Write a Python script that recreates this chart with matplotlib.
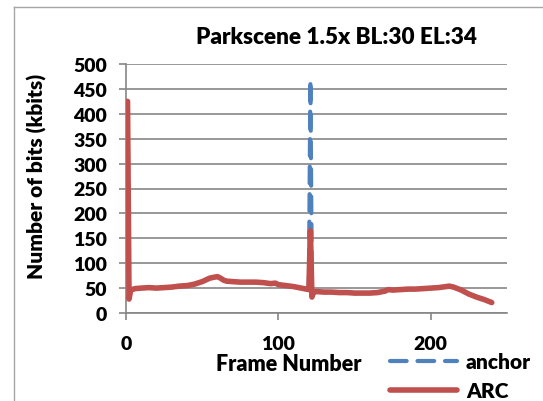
'''Parkscene bits per frame plot'''
import matplotlib
matplotlib.use("Agg")
import matplotlib.pyplot as plt
from matplotlib.lines import Line2D

# frame numbers the values were read at
frames = [1, 2, 3, 4, 6, 10, 15, 20, 25, 30, 35, 40, 45, 50, 55, 58, 60, 62,
          64, 66, 70, 75, 80, 85, 90, 95, 98, 100, 105, 110, 115, 120, 121,
          122, 123, 125, 130, 135, 140, 145, 150, 155, 160, 165, 170, 172,
          175, 180, 185, 190, 195, 200, 205, 210, 212, 215, 220, 225, 230,
          235, 240]

arc = [425, 28, 45, 47, 49, 50, 51, 50, 51, 52, 54, 55, 58, 63, 70, 72, 73, 70,
       66, 64, 63, 62, 62, 62, 61, 59, 60, 57, 55, 53, 50, 47, 165,
       32, 42, 43, 42, 42, 41, 41, 40, 40, 40, 41, 44, 47,
       46, 47, 48, 48, 49, 50, 51, 53, 54, 52, 46, 38, 32,
       27, 21]

anchor = [425, 28, 45, 47, 49, 50, 51, 50, 51, 52, 54, 55, 58, 63, 70, 72, 73, 70,
          66, 64, 63, 62, 62, 62, 61, 59, 60, 57, 55, 53, 50, 47, 468,
          28, 42, 43, 42, 42, 41, 41, 40, 40, 40, 41, 44, 47,
          46, 47, 48, 48, 49, 50, 51, 53, 54, 52, 46, 38, 32,
          27, 21]

yticks = [0, 50, 100, 150, 200, 250, 300, 350, 400, 450, 500]
xticks = [0, 100, 200]

BLUE = "#4F81BD"
RED = "#C0504D"
GRID = "#868686"
FONT = {'family': 'Lato', 'weight': 800}
FS = 14


def main():
    ''' Main function for module'''
    plt.rcParams['font.family'] = ['Lato', 'DejaVu Sans']
    plt.rcParams['font.weight'] = 800

    W, H = 543, 402
    fig = plt.figure(figsize=(W / 100, H / 100), dpi=100)
    ax = fig.add_axes([126 / W, 1 - 314 / H, (507 - 126) / W, (314 - 65) / H])

    # chart border (only left/top visible in the crop)
    fig.add_artist(Line2D([13.5 / W, 13.5 / W], [0, 1 - 7.5 / H],
                          transform=fig.transFigure, color="#a6a6a6", lw=1))
    fig.add_artist(Line2D([13.5 / W, 1], [1 - 7.5 / H, 1 - 7.5 / H],
                          transform=fig.transFigure, color="#a6a6a6", lw=1))

    ax.plot(frames, anchor, color=BLUE, lw=3, dashes=(4.0, 2.6),
            dash_capstyle='round', label="anchor", zorder=3)
    ax.plot(frames, arc, color=RED, lw=4, solid_capstyle='round',
            solid_joinstyle='round', label="ARC", zorder=4)

    ax.set_xlim(0, 250)
    ax.set_ylim(0, 500)
    ax.set_xticks(xticks)
    ax.set_yticks(yticks)
    ax.set_xticklabels([str(v) for v in xticks], fontdict=FONT)
    ax.set_yticklabels([str(v) for v in yticks], fontdict=FONT)
    ax.grid(axis='y', color=GRID, lw=1.2)
    ax.set_axisbelow(True)
    for s in ['top', 'right']:
        ax.spines[s].set_visible(False)
    for s in ['left', 'bottom']:
        ax.spines[s].set_color(GRID)
        ax.spines[s].set_linewidth(1.2)
    ax.tick_params(axis='both', colors=GRID, labelcolor='black',
                   labelsize=FS, length=5, width=1.2, direction='out')
    ax.tick_params(axis='y', pad=8.5)
    ax.tick_params(axis='x', pad=10.5)

    fig.text(336 / W, 1 - 37 / H, "Parkscene 1.5x BL:30 EL:34",
             ha='center', va='center', fontsize=16.2, fontdict=FONT)
    fig.text(37 / W, 1 - 176 / H, "Number of bits (kbits)", rotation=90,
             ha='center', va='center', fontsize=15, fontdict=FONT)
    fig.text(289 / W, 1 - 365 / H, "Frame Number",
             ha='center', va='center', fontsize=15.5, fontdict=FONT)

    leg = fig.legend(loc='upper left', bbox_to_anchor=(390 / W, 1 - 353 / H),
                     frameon=False, fontsize=15, handlelength=3.2,
                     handletextpad=0.45, labelspacing=0.5, borderpad=0,
                     borderaxespad=0)
    for t in leg.get_texts():
        t.set_fontfamily('Lato')
        t.set_fontweight(800)

    fig.savefig("out.png", dpi=100)


if __name__ == "__main__":
    main()
